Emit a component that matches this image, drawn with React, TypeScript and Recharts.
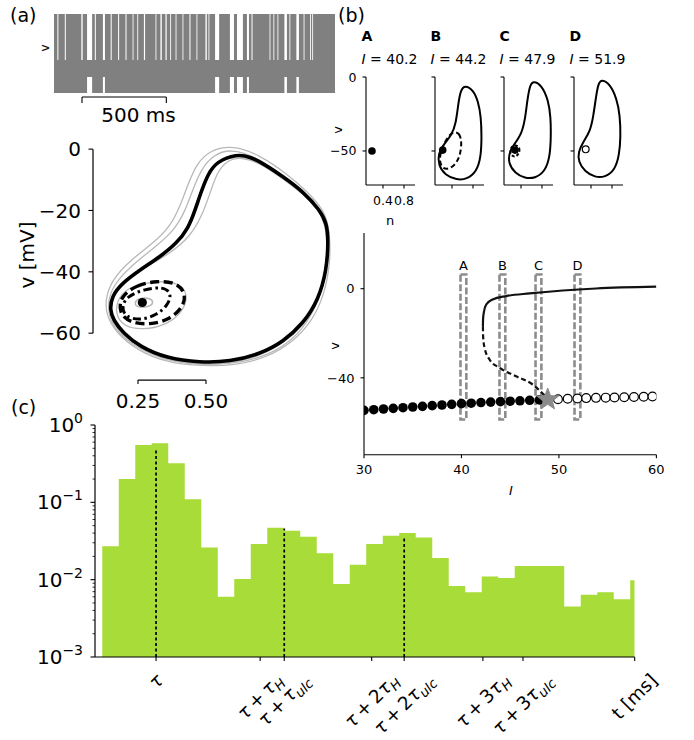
import React from 'react';
import { ComposedChart, Line, Area, Scatter, XAxis, YAxis, ReferenceLine, ReferenceArea } from 'recharts';

const FONT = '"DejaVu Sans", sans-serif';
type P = [number, number];

// ---------- (a) voltage trace ----------
const traceLength = 1666; // ms
const traceScaleBar: P = [166, 666];
const traceBurst: P = [-72, 2];
const tracePause: P = [-72, -41]; // short pause between spikes: troughs still reached
const traceQuiet: P = [-57, -41]; // long pause: subthreshold oscillation only
const traceGaps: P[] = [
  [20, 26], [64, 70], [162, 170], [196, 226], [242, 248], [290, 302], [336, 342], [380, 386],
  [424, 430], [466, 471], [494, 499], [533, 540], [602, 607], [631, 639], [661, 668], [689, 694],
  [721, 726], [762, 767], [803, 809], [845, 850], [898, 906], [916, 921], [955, 979], [1043, 1067],
  [1085, 1120], [1144, 1156], [1171, 1177], [1278, 1283], [1301, 1306], [1325, 1330], [1366, 1381],
  [1396, 1401], [1437, 1452], [1480, 1485], [1518, 1523], [1531, 1536],
];

// ---------- (a) phase plane (n, v) ----------
const phaseN: P = [0.0846, 0.97];
const phaseV: P = [-75.3, 2];
const phaseVTicks = [0, -20, -40, -60];
const phaseNTicks = [0.25, 0.5];
const cycleStable: P[] = [
  [0.613, -1.6], [0.662, -2.5], [0.711, -4.7], [0.784, -9], [0.858, -13.9], [0.919, -19.9],
  [0.944, -24.2], [0.95, -29.6], [0.944, -39.4], [0.913, -49.2], [0.858, -56.8], [0.784, -62.8],
  [0.699, -66.8], [0.588, -69.3], [0.478, -69.6], [0.355, -68.2], [0.257, -64.4], [0.196, -60],
  [0.159, -55.7], [0.147, -52.4], [0.153, -48.1], [0.19, -43.8], [0.257, -39.4], [0.331, -35.1],
  [0.392, -30.7], [0.435, -25.8], [0.46, -19.9], [0.484, -13.4], [0.509, -7.9], [0.539, -4.1],
];
const grayRun1: P[] = [
  [0.6, 1.3], [0.515, -0.3], [0.466, -4.7], [0.435, -11.2], [0.404, -18.8], [0.368, -25.3],
  [0.306, -30.7], [0.221, -36.2], [0.153, -42.7], [0.129, -49.2], [0.135, -54.6], [0.172, -60],
  [0.245, -65.5], [0.355, -69.6], [0.49, -70.8], [0.613, -70.4], [0.723, -68.0], [0.821, -62.8],
  [0.89, -56.0], [0.933, -48.1], [0.958, -37.2], [0.955, -26.4], [0.935, -19.9], [0.868, -13.4],
  [0.795, -7.9], [0.699, -2],
];
const grayRun2: P[] = [
  [0.588, 0.2], [0.527, -2], [0.484, -6.3], [0.453, -12.8], [0.423, -20.4], [0.38, -26.9],
  [0.306, -32.4], [0.221, -38.3], [0.159, -44.3], [0.137, -50.3], [0.147, -56.2], [0.19, -61.1],
  [0.27, -66.0], [0.38, -69.5], [0.503, -70.4], [0.625, -69.7], [0.735, -67.0], [0.825, -61.8],
  [0.886, -54.8], [0.928, -45.9], [0.953, -35.1], [0.95, -25.3], [0.925, -20.4], [0.858, -14.4],
  [0.772, -8.5], [0.686, -2.5],
];
const grayRun3: P[] = [
  [0.637, -2.5], [0.576, -3.6], [0.539, -7.9], [0.515, -14.4], [0.484, -22], [0.441, -28.6],
  [0.368, -34], [0.27, -38.9], [0.196, -43.2], [0.15, -48.6], [0.145, -53.5], [0.165, -57.9],
  [0.214, -62.2], [0.294, -66.8], [0.417, -70], [0.551, -70.3], [0.674, -68.3], [0.772, -64.2],
  [0.858, -57.7], [0.917, -49.2], [0.944, -38.3], [0.946, -27.5], [0.925, -20.9], [0.864, -15],
  [0.79, -10.1], [0.711, -5.2],
];
const graySubthreshold: P[] = [
  [0.221, -44.8], [0.319, -42.9], [0.398, -43.5], [0.435, -47], [0.417, -53], [0.355, -57.3],
  [0.27, -59], [0.196, -57.9], [0.165, -53.5], [0.178, -48.1],
];
const grayNearFp: P[] = [
  [0.235, -50.4], [0.25, -48.6], [0.29, -48.4], [0.31, -49.8], [0.292, -51.5], [0.252, -51.7],
];
const cycleUnstable: P[] = [
  [0.184, -48.1], [0.245, -44.3], [0.319, -42.9], [0.392, -43.5], [0.426, -47], [0.417, -51.4],
  [0.368, -55.5], [0.294, -57.3], [0.221, -56.6], [0.181, -53.5],
];
const cycleInner: P[] = [
  [0.208, -48.1], [0.27, -45.7], [0.343, -44.8], [0.374, -47], [0.361, -50.8], [0.319, -54.1],
  [0.257, -55.9], [0.202, -54.6], [0.19, -51.4],
];
const phaseFixedPoint: P[] = [[0.266, -50]];

// ---------- (b) insets ----------
const insetN: P = [0.076, 1.01];
const insetV: P = [-73, 0];
const insetNTicks = [0.4, 0.8];
const insetVTicks = [0, -50];
const insetLeft = [366, 435, 504, 574];
const insetNames = ['A', 'B', 'C', 'D'];
const insetCurrents = ['40.2', '44.2', '47.9', '51.9'];
const insetCycleB: P[] = [
  [0.647, -5.4], [0.806, -8.8], [0.901, -16.7], [0.952, -26.8], [0.966, -40.4], [0.952, -53.9],
  [0.87, -64], [0.68, -69.2], [0.489, -69.6], [0.266, -66.3], [0.139, -59.5], [0.139, -51.6],
  [0.234, -46], [0.394, -39.2], [0.476, -31.3], [0.52, -17.8], [0.566, -8.8],
];
const insetCycleC: P[] = [
  [0.634, -2.5], [0.794, -5.4], [0.92, -15.6], [0.966, -26.8], [0.971, -40.4], [0.952, -53.9],
  [0.857, -64], [0.666, -68.5], [0.476, -68.5], [0.286, -65.1], [0.158, -58.4], [0.177, -50.5],
  [0.286, -44.8], [0.413, -38.1], [0.476, -29.1], [0.52, -15.6], [0.571, -5.4],
];
const insetCycleD: P[] = [
  [0.604, -1.6], [0.762, -4.7], [0.889, -14.4], [0.952, -25.7], [0.966, -40.4], [0.939, -52.7],
  [0.857, -62.9], [0.667, -67.8], [0.476, -67.8], [0.286, -64], [0.158, -57.3], [0.158, -50.5],
  [0.253, -43.7], [0.381, -37], [0.444, -26.8], [0.495, -13.3], [0.54, -4.3],
];
const insetUnstableB: P[] = [
  [0.425, -37], [0.539, -37.6], [0.59, -43.7], [0.552, -53.9], [0.444, -60.2], [0.286, -62.9],
  [0.185, -60.2], [0.158, -54.3], [0.223, -46.7], [0.33, -39.9],
];
const insetUnstableC: P[] = [
  [0.318, -46], [0.381, -48.2], [0.362, -52], [0.286, -54.3], [0.204, -52.7], [0.19, -49.4], [0.228, -46.7],
];
const insetFpA: P[] = [[0.19, -50]];
const insetFpB: P[] = [[0.223, -49.4]];
const insetFpC: P[] = [[0.286, -49.4]];
const insetFpD: P[] = [[0.299, -48.9]];

// ---------- (b) bifurcation diagram ----------
const bifI: P = [30, 60];
const bifV: P = [-74.5, 25];
const bifITicks = [30, 40, 50, 60];
const bifVTicks = [0, -40];
const bifStableFp: P[] = [
  [30, -54.6], [31, -54.3], [32, -54.0], [33, -53.7], [34, -53.4], [35, -53.1], [36, -52.8],
  [37, -52.5], [38, -52.2], [39, -51.9], [40, -51.6], [41, -51.4], [42, -51.1], [43, -50.9],
  [44, -50.7], [45, -50.5], [46, -50.3], [47, -50.1], [48, -49.9],
];
const bifUnstableFp: P[] = [
  [49.9, -49.6], [50.9, -49.4], [51.9, -49.3], [52.8, -49.1], [53.8, -49.0], [54.8, -48.9],
  [55.7, -48.8], [56.7, -48.7], [57.7, -48.6], [58.7, -48.5], [59.6, -48.4],
];
const bifHopf: P[] = [[48.85, -49.75]];
const bifCycleStable: P[] = [
  [42.2, -16.8], [42.22, -13.5], [42.3, -10.5], [42.54, -7.1], [43.2, -4.8], [44.6, -3.3],
  [47.0, -2.1], [50.4, -0.8], [53.8, 0.1], [60, 0.9],
];
const bifCycleUnstable: P[] = [
  [42.2, -16.8], [42.22, -21.3], [42.37, -26.5], [42.88, -31.8], [43.9, -35.5], [45.6, -39.3],
  [47.3, -43], [48.85, -49.4],
];
const bifMarkerI = [40.2, 44.2, 47.9, 51.9];
const bifMarkerV: P = [-58.7, 6.4];

// ---------- (c) ISI histogram ----------
const histValues = [
  0.027, 0.2, 0.55, 0.58, 0.32, 0.11, 0.026, 0.006, 0.0102, 0.029, 0.047, 0.043, 0.036, 0.022,
  0.0088, 0.0156, 0.029, 0.037, 0.04, 0.035, 0.019, 0.0083, 0.0069, 0.011, 0.0105, 0.015, 0.015,
  0.015, 0.0045, 0.0064, 0.0069, 0.0056, 0.0098,
];
const histEnd = 32.27;
const histX: P = [-0.44, histEnd];
const histMajorTicks = [0.001, 0.01, 0.1, 1];
const histMinorTicks = [
  0.002, 0.003, 0.004, 0.005, 0.006, 0.007, 0.008, 0.009, 0.02, 0.03, 0.04, 0.05, 0.06, 0.07,
  0.08, 0.09, 0.2, 0.3, 0.4, 0.5, 0.6, 0.7, 0.8, 0.9,
];
const histTicks = [3.26, 9.57, 11.03, 16.33, 18.3, 23.07, 25.5, histEnd];
const histTickLabels = [
  'τ', 'τ\u2009+\u2009τ_H', 'τ\u2009+\u2009τ_ulc', 'τ\u2009+\u20092τ_H', 'τ\u2009+\u20092τ_ulc',
  'τ\u2009+\u20093τ_H', 'τ\u2009+\u20093τ_ulc', 't [ms]',
];
const histMarks: P[] = [[3.26, 0.47], [11.03, 0.046], [18.3, 0.036]];

// ---------- helpers ----------
const rows = (pts: P[]) => pts.map(([x, y]) => ({ x, y }));
const fmtNum = (v: number) => (v < 0 ? `\u2212${-v}` : `${v}`);

const traceRows = (() => {
  const r: { x: number; y: P }[] = [{ x: 0, y: traceBurst }];
  traceGaps.forEach(([a, b]) => {
    r.push({ x: a, y: b - a >= 12 ? traceQuiet : tracePause });
    r.push({ x: b, y: traceBurst });
  });
  r.push({ x: traceLength, y: traceBurst });
  return r;
})();

const histRows = [...histValues.map((y, x) => ({ x, y })), { x: histEnd, y: histValues[histValues.length - 1] }];

let measureCtx: CanvasRenderingContext2D | null = null;
function measure(s: string, fs: number, italic = false) {
  if (!measureCtx) measureCtx = document.createElement('canvas').getContext('2d');
  if (!measureCtx) return s.length * fs * 0.6;
  measureCtx.font = `${italic ? 'italic ' : ''}${fs}px "DejaVu Sans"`;
  const w = measureCtx.measureText(s).width;
  return Number.isFinite(w) && w > 0 ? w : s.length * fs * 0.6;
}

const tickBottom = (len: number, dy: number, fs: number, fmt?: (v: number) => string) => (p: any) => (
  <g>
    <line x1={p.x} x2={p.x} y1={p.y} y2={p.y + len} stroke="#000" strokeWidth={1.1} />
    {fmt && (
      <text x={p.x} y={p.y + dy} textAnchor="middle" fontSize={fs} fontFamily={FONT} fill="#000">
        {fmt(p.payload.value)}
      </text>
    )}
  </g>
);

const tickLeft = (len: number, dx: number, fs: number, fmt?: (v: number) => string) => (p: any) => (
  <g>
    <line x1={p.x - len} x2={p.x} y1={p.y} y2={p.y} stroke="#000" strokeWidth={1.1} />
    {fmt && (
      <text x={p.x - dx} y={p.y + fs * 0.36} textAnchor="end" fontSize={fs} fontFamily={FONT} fill="#000">
        {fmt(p.payload.value)}
      </text>
    )}
  </g>
);

const histLeftTick = (p: any) => {
  const v = p.payload.value as number;
  const major = histMajorTicks.includes(v);
  const len = major ? 4.5 : 2.5;
  const e = Math.round(Math.log10(v));
  return (
    <g>
      <line x1={p.x - len} x2={p.x} y1={p.y} y2={p.y} stroke="#000" strokeWidth={major ? 1.1 : 0.8} />
      {major && (
        <text x={p.x - 12} y={p.y + 7} textAnchor="end" fontSize={20} fontFamily={FONT} fill="#000">
          10<tspan dy={-9} fontSize={14}>{e < 0 ? `\u2212${-e}` : `${e}`}</tspan>
        </text>
      )}
    </g>
  );
};

const histBottomTick = (p: any) => {
  const label = histTickLabels[p.index] ?? '';
  const [main, sub] = label.split('_');
  const fs = 18.5;
  const w = measure(main, fs) + (sub ? measure(sub, fs * 0.72, true) : 0);
  const diag = (w + fs * 0.8) * 0.7071;
  const cx = Number(p.x);
  const cy = Number(p.y) + 15 + diag / 2;
  return (
    <g>
      <line x1={cx} x2={cx} y1={p.y} y2={Number(p.y) + 4} stroke="#000" strokeWidth={1.1} />
      <g transform={`translate(${cx.toFixed(2)},${cy.toFixed(2)}) rotate(-45)`}>
        <text x={0} y={fs * 0.33} textAnchor="middle" fontSize={fs} fontFamily={FONT} fill="#000">
          {main.split(/(τ)/).filter(Boolean).map((s, i) => (
            <tspan key={i} fontStyle={s === 'τ' ? 'italic' : 'normal'}>{s}</tspan>
          ))}
          {sub && <tspan fontSize={fs * 0.72} dy={fs * 0.22} fontStyle="italic">{sub}</tspan>}
        </text>
      </g>
    </g>
  );
};

const dotShape = (r: number, fill: string, stroke = 'none') => (p: any) => (
  <circle cx={p.cx} cy={p.cy} r={r} fill={fill} stroke={stroke} strokeWidth={1.2} />
);

const starShape = (p: any) => {
  const pts: string[] = [];
  for (let k = 0; k < 10; k++) {
    const r = k % 2 === 0 ? 11.5 : 4.8;
    const a = -Math.PI / 2 + (k * Math.PI) / 5;
    pts.push(`${p.cx + r * Math.cos(a)},${p.cy + r * Math.sin(a)}`);
  }
  return <polygon points={pts.join(' ')} fill="#8a8a8a" stroke="#8a8a8a" strokeWidth={1} />;
};

function Frame({ l, t, r, b, children }: { l: number; t: number; r: number; b: number; children: React.ReactNode }) {
  return (
    <div style={{ position: 'absolute', left: l - 1, top: t }}>
      <ComposedChart width={r - l + 1} height={b - t + 1} margin={{ top: 0, right: 0, bottom: 0, left: 0 }}>
        {children}
      </ComposedChart>
    </div>
  );
}

const loop = (pts: P[], stroke: string, width: number, dash?: string, key?: string) => (
  <Line key={key} data={rows(pts)} dataKey="y" type="basisClosed" stroke={stroke} strokeWidth={width}
    strokeDasharray={dash} dot={false} activeDot={false} isAnimationActive={false} />
);

function Inset({ idx, cycle, unstable, fp, fpOpen }: { idx: number; cycle?: P[]; unstable?: P[]; fp: P[]; fpOpen?: boolean }) {
  const l = insetLeft[idx];
  const labels = idx === 0;
  return (
    <Frame l={l} t={77} r={l + 49} b={185}>
      <XAxis type="number" dataKey="x" domain={insetN} allowDataOverflow height={1} ticks={insetNTicks} interval={0}
        tick={tickBottom(3.5, 20, 12.5, labels ? (v) => `${v}` : undefined)} tickLine={false} tickSize={0} tickMargin={0}
        axisLine={{ stroke: '#000', strokeWidth: 1.1 }} />
      <YAxis type="number" dataKey="y" domain={insetV} allowDataOverflow width={1} ticks={insetVTicks} interval={0}
        tick={tickLeft(3.5, 9.5, 12.5, labels ? fmtNum : undefined)} tickLine={false} tickSize={0} tickMargin={0}
        axisLine={{ stroke: '#000', strokeWidth: 1.1 }} />
      {cycle && loop(cycle, '#000', 2)}
      {unstable && loop(unstable, '#000', 2, idx === 1 ? '5 3' : '3 2')}
      <Scatter data={rows(fp)} dataKey="y" isAnimationActive={false}
        shape={fpOpen ? dotShape(3.4, '#fff', '#000') : dotShape(3.8, '#000')} />
    </Frame>
  );
}

export default function App() {
  const rot = (x: number, y: number, s: string, fs: number) => (
    <text x={x} y={y} textAnchor="middle" dominantBaseline="central" fontSize={fs} fontFamily={FONT}
      transform={`rotate(-90 ${x} ${y})`}>{s}</text>
  );
  return (
    <div style={{ position: 'absolute', left: 0, top: 0, width: 694, height: 740, background: '#fff', overflow: 'hidden' }}>
      <style>{'.recharts-surface{overflow:visible}'}</style>

      {/* (a) trace */}
      <Frame l={54} t={12} r={335} b={97}>
        <XAxis type="number" dataKey="x" domain={[0, traceLength]} allowDataOverflow height={1} ticks={traceScaleBar}
          interval={0} tick={tickBottom(6, 0, 0)} tickLine={false} tickSize={0} tickMargin={0} axisLine={false} />
        <YAxis type="number" domain={[-75.75, 3.9]} allowDataOverflow width={1} tick={false} tickLine={false} axisLine={false} />
        <Area data={traceRows} dataKey="y" type="stepAfter" stroke="none" fill="#808080" fillOpacity={1} isAnimationActive={false} />
        <ReferenceLine segment={[{ x: traceScaleBar[0], y: -75.75 }, { x: traceScaleBar[1], y: -75.75 }]} stroke="#000" strokeWidth={1.2} />
      </Frame>

      {/* (a) phase plane */}
      <Frame l={93} t={142.9} r={333.8} b={380}>
        <XAxis type="number" dataKey="x" domain={phaseN} allowDataOverflow height={1} ticks={phaseNTicks} interval={0}
          tick={tickBottom(4, 28, 20, (v) => v.toFixed(2))} tickLine={false} tickSize={0} tickMargin={0} axisLine={false} />
        <YAxis type="number" dataKey="y" domain={phaseV} allowDataOverflow width={1} ticks={phaseVTicks} interval={0}
          tick={tickLeft(4.5, 12, 20, fmtNum)} tickLine={false} tickSize={0} tickMargin={0} axisLine={false} />
        <ReferenceLine segment={[{ x: phaseN[0], y: 0 }, { x: phaseN[0], y: -60 }]} stroke="#000" strokeWidth={1.2} />
        <ReferenceLine segment={[{ x: 0.25, y: phaseV[0] }, { x: 0.5, y: phaseV[0] }]} stroke="#000" strokeWidth={1.2} />
        {loop(grayRun1, '#b8b8b8', 1.3)}
        {loop(grayRun2, '#b8b8b8', 1.3)}
        {loop(grayRun3, '#b8b8b8', 1.3)}
        {loop(graySubthreshold, '#b8b8b8', 1.3)}
        {loop(grayNearFp, '#b8b8b8', 1.6)}
        {loop(cycleStable, '#000', 3.6)}
        {loop(cycleUnstable, '#000', 3.4, '9 4.5')}
        {loop(cycleInner, '#000', 3, '8 3.5 2.5 3.5')}
        <Scatter data={rows(phaseFixedPoint)} dataKey="y" isAnimationActive={false} shape={dotShape(4.6, '#000')} />
      </Frame>

      {/* (b) insets */}
      <Inset idx={0} fp={insetFpA} />
      <Inset idx={1} cycle={insetCycleB} unstable={insetUnstableB} fp={insetFpB} />
      <Inset idx={2} cycle={insetCycleC} unstable={insetUnstableC} fp={insetFpC} />
      <Inset idx={3} cycle={insetCycleD} fp={insetFpD} fpOpen />

      {/* (b) bifurcation diagram */}
      <Frame l={364.3} t={233.3} r={656.7} b={455}>
        <XAxis type="number" dataKey="x" domain={bifI} allowDataOverflow height={1} ticks={bifITicks} interval={0}
          tick={tickBottom(3.5, 19, 13, (v) => `${v}`)} tickLine={false} tickSize={0} tickMargin={0}
          axisLine={{ stroke: '#000', strokeWidth: 1.1 }} />
        <YAxis type="number" dataKey="y" domain={bifV} allowDataOverflow width={1} ticks={bifVTicks} interval={0}
          tick={tickLeft(3.5, 9.5, 13, fmtNum)} tickLine={false} tickSize={0} tickMargin={0}
          axisLine={{ stroke: '#000', strokeWidth: 1.1 }} />
        <Line data={rows(bifCycleStable)} dataKey="y" type="monotoneX" stroke="#111" strokeWidth={2.2} dot={false}
          activeDot={false} isAnimationActive={false} />
        <Line data={rows(bifCycleUnstable)} dataKey="y" type="monotoneX" stroke="#111" strokeWidth={2.2}
          strokeDasharray="5 3" dot={false} activeDot={false} isAnimationActive={false} />
        <Scatter data={rows(bifStableFp)} dataKey="y" isAnimationActive={false} shape={dotShape(4.8, '#000')} />
        <Scatter data={rows(bifUnstableFp)} dataKey="y" isAnimationActive={false} shape={dotShape(4.4, '#fff', '#000')} />
        <Scatter data={rows(bifHopf)} dataKey="y" isAnimationActive={false} shape={starShape} />
        {bifMarkerI.map((I, i) => (
          <ReferenceArea key={i} x1={I - 0.3} x2={I + 0.3} y1={bifMarkerV[0]} y2={bifMarkerV[1]} fill="none"
            fillOpacity={0} stroke="#8c8c8c" strokeWidth={2.6} strokeDasharray="7 2.5"
            label={{ value: insetNames[i], position: 'top', offset: 4, fontSize: 13, fill: '#000', fontFamily: FONT }} />
        ))}
      </Frame>

      {/* (c) histogram */}
      <Frame l={95} t={425} r={634.7} b={657}>
        <XAxis type="number" dataKey="x" domain={histX} allowDataOverflow height={1} ticks={histTicks} interval={0}
          tick={histBottomTick} tickLine={false} tickSize={0} tickMargin={0} axisLine={{ stroke: '#000', strokeWidth: 1.2 }} />
        <YAxis type="number" dataKey="y" scale="log" domain={[0.001, 1]} allowDataOverflow width={1}
          ticks={[...histMajorTicks, ...histMinorTicks]} interval={0} tick={histLeftTick} tickLine={false} tickSize={0}
          tickMargin={0} axisLine={{ stroke: '#000', strokeWidth: 1.2 }} />
        <Area data={histRows} dataKey="y" type="stepAfter" baseValue={0.001} stroke="none" fill="#a8dc38"
          fillOpacity={1} isAnimationActive={false} />
        {histMarks.map(([x, top], i) => (
          <ReferenceLine key={i} segment={[{ x, y: 0.001 }, { x, y: top }]} stroke="#000" strokeWidth={1.7} strokeDasharray="3 2.5" />
        ))}
      </Frame>

      {/* static labels */}
      <svg width={694} height={740} style={{ position: 'absolute', left: 0, top: 0, pointerEvents: 'none' }}>
        <g fontFamily={FONT} fill="#000">
          <text x={10} y={22} fontSize={19}>(a)</text>
          <text x={338} y={22} fontSize={19}>(b)</text>
          <text x={11} y={414} fontSize={19}>(c)</text>
          {rot(45, 48, 'v', 12)}
          <text x={138.5} y={122} textAnchor="middle" fontSize={20}>500 ms</text>
          {rot(27, 255, 'v [mV]', 20)}
          {insetNames.map((n, i) => (
            <g key={n}>
              <text x={insetLeft[i] - 4.5} y={41} fontSize={14} fontWeight="bold">{n}</text>
              <text x={insetLeft[i] - 4.5} y={64} fontSize={14}>
                <tspan fontStyle="italic">I</tspan> = {insetCurrents[i]}
              </text>
            </g>
          ))}
          {rot(337, 130, 'v', 13)}
          <text x={390} y={225} textAnchor="middle" fontSize={13}>n</text>
          {rot(334, 346, 'v', 13)}
          <text x={511} y={495} textAnchor="middle" fontSize={13} fontStyle="italic">I</text>
        </g>
      </svg>
    </div>
  );
}
